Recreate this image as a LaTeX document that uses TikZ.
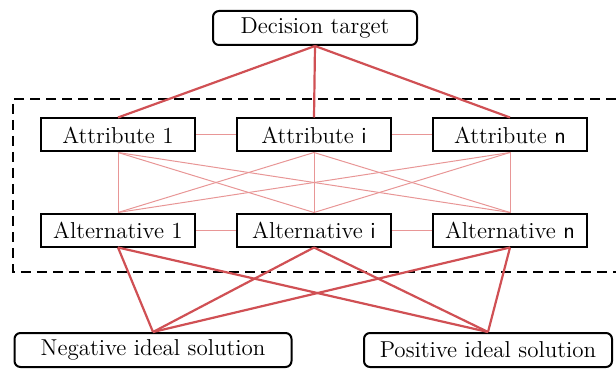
\documentclass[tikz,border=0pt]{standalone}
\definecolor{linkred}{RGB}{208,80,84}
\definecolor{linkpink}{RGB}{232,150,150}
\begin{document}
\begin{tikzpicture}[x=0.5pt,y=-0.5pt,
    box/.style={draw,line width=1pt,fill=white,minimum height=16.5pt,inner sep=0pt,font=\fontsize{11.5}{13}\selectfont},
    rbox/.style={box,rounded corners=3pt,minimum height=17pt},
    heavy/.style={linkred,line width=1.1pt},
    light/.style={linkpink,line width=0.5pt}]
    \useasboundingbox (0,0) rectangle (616,369);
    \draw[line width=1pt,dash pattern=on 5pt off 3pt] (616,99) -- (13,99) -- (13,272) -- (616,272);
    \node[rbox,minimum width=102pt] (dec) at (315,28) {Decision target};
    \foreach \x/\n/\t in {118/1/1, 314/i/\textsf{i}, 510/n/\textsf{n}} {
      \node[box,minimum width=77pt] (att\n) at (\x,135) {Attribute \t};
      \node[box,minimum width=77pt] (alt\n) at (\x,230) {Alternative \t};
    }
    \node[rbox,minimum width=138.5pt] (neg) at (153,350) {Negative ideal solution};
    \node[rbox,minimum width=124pt] (pos) at (488,350) {Positive ideal solution};
    \foreach \a in {1,i,n} { \foreach \b in {1,i,n} { \draw[light] (att\a.south) -- (alt\b.north); } }
    \draw[light] (att1) -- (atti) -- (attn);
    \draw[light] (alt1) -- (alti) -- (altn);
    \foreach \n in {1,i,n} {
      \draw[heavy] (dec.south) -- (att\n.north);
      \draw[heavy] (alt\n.south) -- (neg.north);
      \draw[heavy] (alt\n.south) -- (pos.north);
    }
\end{tikzpicture}
\end{document}
